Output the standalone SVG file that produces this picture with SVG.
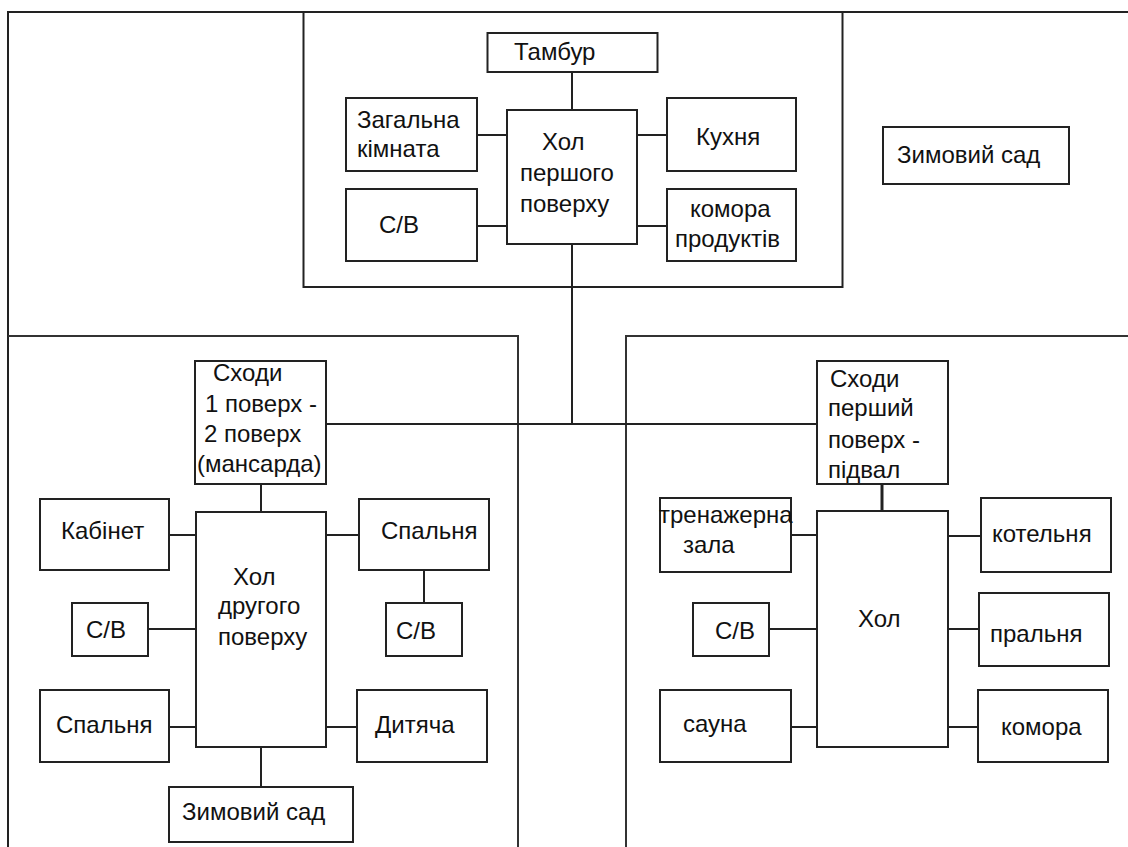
<svg xmlns="http://www.w3.org/2000/svg" width="1128" height="847" viewBox="0 0 1128 847">
<style>
.frame{fill:none;stroke:#222;stroke-width:2}
.sec{fill:none;stroke:#333;stroke-width:2}
.box{fill:#fff;stroke:#222;stroke-width:2}
.ln{fill:none;stroke:#222;stroke-width:2}
text{font-family:"Liberation Sans",Arial,sans-serif;font-size:24px;fill:#111}
</style>
<rect width="1128" height="847" fill="#fff"/>
<g id="frame">
<path class="frame" d="M8,847 V12 H1128"/>
<path class="sec" d="M8,336 H518 V847"/>
<path class="sec" d="M626,847 V336 H1128"/>
<rect class="frame" x="303.5" y="12" width="539" height="275"/>
</g>
<g id="connectors">
<path class="ln" d="M572,72 V110"/>
<path class="ln" d="M477,135 H507"/>
<path class="ln" d="M477,226 H507"/>
<path class="ln" d="M637,135 H667"/>
<path class="ln" d="M637,226 H667"/>
<path class="ln" d="M572,244 V424"/>
<path class="ln" d="M326,424 H817"/>
<path class="ln" d="M261,484 V512"/>
<path class="ln" d="M169,535 H196"/>
<path class="ln" d="M148,629 H196"/>
<path class="ln" d="M169,727 H196"/>
<path class="ln" d="M326,535 H359"/>
<path class="ln" d="M424,570 V603"/>
<path class="ln" d="M326,727 H357"/>
<path class="ln" d="M261,735 V787"/>
<path class="ln" d="M882,484 V511" style="stroke-width:3"/>
<path class="ln" d="M791,535 H817"/>
<path class="ln" d="M769,629 H817"/>
<path class="ln" d="M791,727 H817"/>
<path class="ln" d="M948,536 H981"/>
<path class="ln" d="M948,629 H979"/>
<path class="ln" d="M948,727 H978"/>
</g>
<g id="tambur"><rect class="box" x="487.5" y="33" width="170" height="39"/><text x="514" y="60">Тамбур</text></g>
<g id="zahalna"><rect class="box" x="346" y="98" width="131" height="73"/><text x="357" y="128">Загальна</text><text x="357" y="157">кімната</text></g>
<g id="hol1"><rect class="box" x="507" y="110" width="130" height="134"/><text x="542" y="150">Хол</text><text x="520" y="181">першого</text><text x="520" y="212">поверху</text></g>
<g id="kukhnia"><rect class="box" x="667" y="98" width="129" height="73"/><text x="696" y="145">Кухня</text></g>
<g id="sv1"><rect class="box" x="346" y="189" width="131" height="72"/><text x="379" y="233">С/В</text></g>
<g id="komora-prod"><rect class="box" x="667" y="189" width="129" height="72"/><text x="690" y="217">комора</text><text x="675" y="247">продуктів</text></g>
<g id="zymovyi-sad-1"><rect class="box" x="883" y="127" width="186" height="57"/><text x="897" y="163">Зимовий сад</text></g>
<g id="skhody-1"><rect class="box" x="195" y="361" width="131" height="123"/><text x="213" y="381">Сходи</text><text x="205" y="412">1 поверх -</text><text x="204" y="442">2 поверх</text><text x="197" y="472">(мансарда)</text></g>
<g id="hol2"><rect class="box" x="196" y="512" width="130" height="235"/><text x="233" y="585">Хол</text><text x="218" y="614">другого</text><text x="218" y="645">поверху</text></g>
<g id="kabinet"><rect class="box" x="40" y="499" width="129" height="71"/><text x="61" y="539">Кабінет</text></g>
<g id="sv2l"><rect class="box" x="72" y="603" width="76" height="53"/><text x="86" y="638">С/В</text></g>
<g id="spalnia-l"><rect class="box" x="40" y="690" width="129" height="72"/><text x="56" y="733">Спальня</text></g>
<g id="spalnia-r"><rect class="box" x="359" y="499" width="130" height="71"/><text x="381" y="539">Спальня</text></g>
<g id="sv2r"><rect class="box" x="386" y="603" width="76" height="53"/><text x="396" y="639">С/В</text></g>
<g id="dytiacha"><rect class="box" x="357" y="690" width="130" height="72"/><text x="375" y="733">Дитяча</text></g>
<g id="zymovyi-sad-2"><rect class="box" x="169" y="787" width="184" height="55"/><text x="182" y="820">Зимовий сад</text></g>
<g id="skhody-2"><rect class="box" x="817" y="361" width="131" height="123"/><text x="830" y="387">Сходи</text><text x="828" y="416">перший</text><text x="828" y="448">поверх -</text><text x="828" y="478">підвал</text></g>
<g id="hol3"><rect class="box" x="817" y="511" width="131" height="236"/><text x="858" y="627">Хол</text></g>
<g id="trenazherna"><rect class="box" x="660" y="498" width="131" height="74"/><text x="659" y="523">тренажерна</text><text x="683" y="553">зала</text></g>
<g id="sv3"><rect class="box" x="693" y="603" width="76" height="53"/><text x="715" y="639">С/В</text></g>
<g id="sauna"><rect class="box" x="660" y="690" width="131" height="72"/><text x="683" y="732">сауна</text></g>
<g id="kotelnia"><rect class="box" x="981" y="498" width="130" height="74"/><text x="992" y="542">котельня</text></g>
<g id="pralnia"><rect class="box" x="979" y="593" width="130" height="73"/><text x="990" y="642">пральня</text></g>
<g id="komora"><rect class="box" x="978" y="690" width="130" height="72"/><text x="1001" y="735">комора</text></g>
</svg>
